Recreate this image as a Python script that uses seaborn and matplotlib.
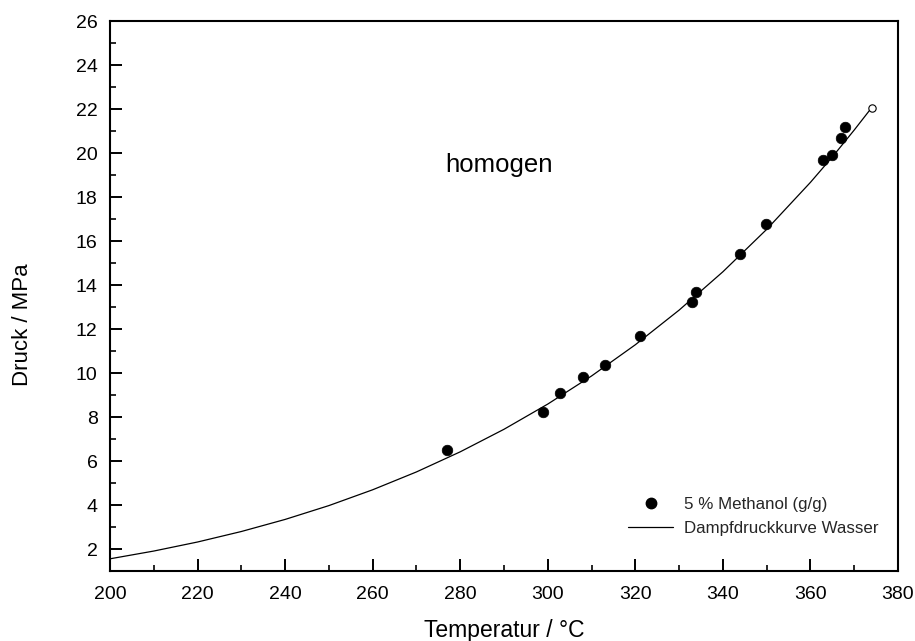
import matplotlib
matplotlib.use("Agg")
import matplotlib.pyplot as plt
from matplotlib.ticker import MultipleLocator
from matplotlib.lines import Line2D
import seaborn as sns
import pandas as pd

# Measured phase-boundary points, 5 % methanol (g/g)
meas_temp = [276.9, 298.8, 302.9, 308.0, 313.0, 321.0, 332.9, 333.8, 343.9,
             349.9, 362.9, 365.0, 366.9, 367.9]
meas_press = [6.51, 8.24, 9.08, 9.81, 10.37, 11.69, 13.23, 13.67, 15.39,
              16.79, 19.66, 19.93, 20.70, 21.16]

# Vapour pressure curve of pure water
curve_temp = [200, 210, 220, 230, 240, 250, 260, 270, 280, 290, 300,
              310, 320, 330, 340, 350, 360, 365, 370, 374]
curve_press = [1.554, 1.907, 2.318, 2.795, 3.344, 3.973, 4.692, 5.503,
               6.417, 7.442, 8.588, 9.865, 11.284, 12.858, 14.601, 16.529,
               18.666, 19.821, 21.044, 22.064]

# Critical point of water
crit_temp = [374.0]
crit_press = [22.064]

x_ticks = [200, 220, 240, 260, 280, 300, 320, 340, 360, 380]
y_ticks = [2, 4, 6, 8, 10, 12, 14, 16, 18, 20, 22, 24, 26]

sns.set_theme(style="ticks")
plt.rcParams["font.family"] = ["Liberation Sans", "DejaVu Sans"]

fig = plt.figure(figsize=(9.15, 6.41), dpi=100)
ax = fig.add_axes([110 / 915, 70 / 641, 788 / 915, 550 / 641])

meas = pd.DataFrame({"T": meas_temp, "p": meas_press})
curve = pd.DataFrame({"T": curve_temp, "p": curve_press})
crit = pd.DataFrame({"T": crit_temp, "p": crit_press})

sns.lineplot(data=curve, x="T", y="p", ax=ax, color="black", linewidth=0.9,
             sort=False, zorder=2)
sns.scatterplot(data=meas, x="T", y="p", ax=ax, color="black", s=58,
                edgecolor="black", linewidth=0.5, zorder=3)
sns.scatterplot(data=crit, x="T", y="p", ax=ax, facecolor="white",
                edgecolor="black", s=28, linewidth=0.8, zorder=4)

ax.set_xlim(200, 380)
ax.set_ylim(1, 26)
ax.set_xticks(x_ticks)
ax.set_yticks(y_ticks)
ax.xaxis.set_minor_locator(MultipleLocator(10))
ax.yaxis.set_minor_locator(MultipleLocator(1))

ax.tick_params(axis="both", which="major", direction="in", length=8.6,
               width=1.4, labelsize=14, colors="black")
ax.tick_params(axis="x", which="major", pad=11)
ax.tick_params(axis="y", which="major", pad=9)
ax.tick_params(axis="both", which="minor", direction="in", length=4.3,
               width=1.4)
ax.tick_params(top=False, right=False, which="both")

for side in ["left", "right", "top", "bottom"]:
    ax.spines[side].set_visible(True)
    ax.spines[side].set_color("black")
    ax.spines[side].set_linewidth(1.5)

ax.set_xlabel("Temperatur / °C", fontsize=16.5, color="black")
ax.set_ylabel("Druck / MPa", fontsize=16, color="black")
ax.xaxis.set_label_coords(0.5, -0.088)
ax.yaxis.set_label_coords(-0.098, 0.447)

ax.text(288.9, 19.15, "homogen", fontsize=18.5, ha="center", va="baseline",
        color="black")

handles = [
    Line2D([], [], linestyle="none", marker="o", color="black", markersize=7.5),
    Line2D([], [], color="black", linewidth=0.9),
]
ax.legend(handles, ["5 % Methanol (g/g)", "Dampfdruckkurve Wasser"],
          loc="upper left", bbox_to_anchor=(0.657, 0.134), frameon=False,
          fontsize=12.2, handlelength=2.7, handletextpad=0.6, borderpad=0,
          borderaxespad=0, labelspacing=0.52)

fig.savefig("out.png", dpi=100)
